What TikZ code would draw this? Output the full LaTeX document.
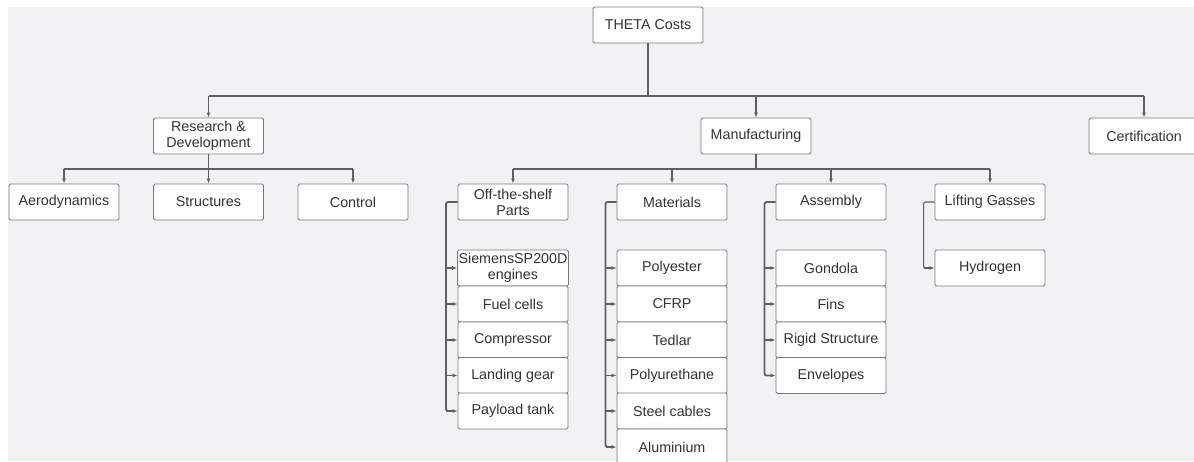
\documentclass[tikz,border=0pt]{standalone}
\usepackage{fontspec}
\setmainfont{Liberation Sans}
\usetikzlibrary{arrows.meta}
\definecolor{bg}{HTML}{F1F2F4}
\definecolor{bord}{HTML}{7A7A7A}
\definecolor{ln}{HTML}{5F5F5F}
\definecolor{txt}{HTML}{333333}
\tikzset{
  box/.style={draw=bord, fill=white, rounded corners=1.5pt, line width=0.9pt,
    minimum width=110pt, minimum height=36pt, inner sep=1pt, align=center,
    text=txt, font=\fontsize{14.3}{16}\selectfont},
  trunk/.style={draw=ln, line width=1.8pt},
  hline/.style={draw=ln, line width=1.1pt},
  arr/.style={draw=ln, line width=1.1pt, -{Latex[length=5pt,width=4pt]}},
  side/.style={draw=ln, line width=1.8pt, rounded corners=2pt},
}
\begin{document}
\begin{tikzpicture}[x=1pt,y=-1pt]
\useasboundingbox (0,0) rectangle (1194,461);
\fill[bg] (8,7) rectangle (1194,461);

% nodes
\node[box] (theta) at (648,25) {THETA Costs};
\node[box] (rd) at (208.5,136) {Research \&\\Development};
\node[box] (man) at (756,136) {Manufacturing};
\node[box] (cert) at (1144,136) {Certification};

\node[box] (aero) at (64,202) {Aerodynamics};
\node[box] (str) at (208.5,202) {Structures};
\node[box] (ctrl) at (353,202) {Control};

\node[box] (ots) at (513,202) {Off-the-shelf\\Parts};
\node[box] (mat) at (672,202) {Materials};
\node[box] (asm) at (831,202) {Assembly};
\node[box] (lift) at (990,202) {Lifting Gasses};

\node[box] (sie) at (513,268) {SiemensSP200D\\engines};
\node[box] (fuel) at (513,304) {Fuel cells};
\node[box] (comp) at (513,340) {Compressor};
\node[box] (land) at (513,375.5) {Landing gear};
\node[box] (pay) at (513,411) {Payload tank};

\node[box] (poly) at (672,268) {Polyester};
\node[box] (cfrp) at (672,304) {CFRP};
\node[box] (ted) at (672,340) {Tedlar};
\node[box] (pu) at (672,375.5) {Polyurethane};
\node[box] (steel) at (672,411) {Steel cables};
\node[box] (alu) at (672,447) {Aluminium};

\node[box] (gon) at (831,268) {Gondola};
\node[box] (fins) at (831,304) {Fins};
\node[box] (rig) at (831,340) {Rigid Structure};
\node[box] (env) at (831,375.5) {Envelopes};

\node[box] (hyd) at (990,268) {Hydrogen};

% top level
\coordinate (tb) at (648,96);
\draw[trunk] (theta.south) -- (tb);
\draw[hline] (rd.north |- tb) -- (cert.north |- tb);
\draw[arr] (rd.north |- tb) -- (rd.north);
\draw[arr] (man.north |- tb) -- (man.north);
\draw[arr] (cert.north |- tb) -- (cert.north);

% R&D
\coordinate (rb) at (208.5,169);
\draw[trunk] (rd.south) -- (rb);
\draw[hline] (aero.north |- rb) -- (ctrl.north |- rb);
\draw[arr] (aero.north |- rb) -- (aero.north);
\draw[arr] (str.north |- rb) -- (str.north);
\draw[arr] (ctrl.north |- rb) -- (ctrl.north);

% Manufacturing
\coordinate (mb) at (756,169);
\draw[trunk] (man.south) -- (mb);
\draw[hline] (ots.north |- mb) -- (lift.north |- mb);
\draw[arr] (ots.north |- mb) -- (ots.north);
\draw[arr] (mat.north |- mb) -- (mat.north);
\draw[arr] (asm.north |- mb) -- (asm.north);
\draw[arr] (lift.north |- mb) -- (lift.north);

% side connectors
\coordinate (sa) at ([xshift=-11.5pt]ots.west);
\draw[side] (ots.west) -- (sa) -- (sa |- pay.west) -- ([xshift=-3pt]pay.west);
\foreach \c in {sie,fuel,comp,land,pay} \draw[arr] (sa |- \c.west) -- (\c.west);

\coordinate (sb) at ([xshift=-11pt]mat.west);
\draw[side] (mat.west) -- (sb) -- (sb |- alu.west) -- ([xshift=-3pt]alu.west);
\foreach \c in {poly,cfrp,ted,pu,steel,alu} \draw[arr] (sb |- \c.west) -- (\c.west);

\coordinate (sc) at ([xshift=-11pt]asm.west);
\draw[side] (asm.west) -- (sc) -- (sc |- env.west) -- ([xshift=-3pt]env.west);
\foreach \c in {gon,fins,rig,env} \draw[arr] (sc |- \c.west) -- (\c.west);

\coordinate (sd) at ([xshift=-11pt]lift.west);
\draw[hline, rounded corners=2pt] (lift.west) -- (sd) -- (sd |- hyd.west) -- ([xshift=-3pt]hyd.west);
\draw[arr] (sd |- hyd.west) -- (hyd.west);
\end{tikzpicture}
\end{document}
